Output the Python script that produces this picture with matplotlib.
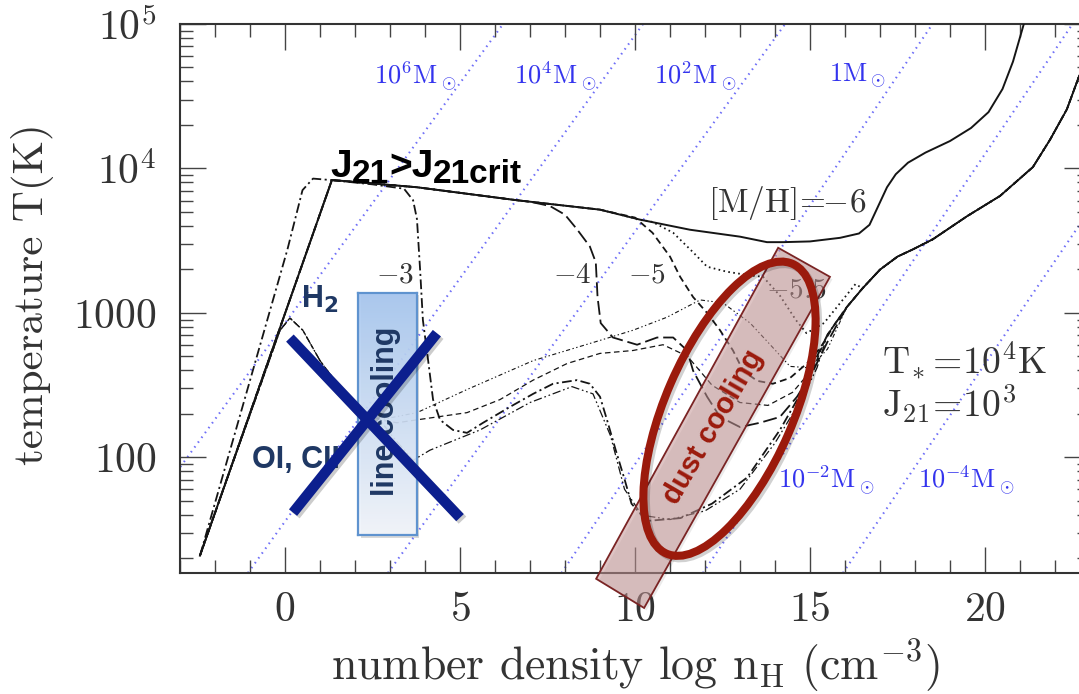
import numpy as np
import matplotlib
matplotlib.use("Agg")
import matplotlib.pyplot as plt
from matplotlib import patches
from matplotlib import transforms as mtransforms
from matplotlib.colors import LinearSegmentedColormap
from matplotlib.ticker import MultipleLocator, LogLocator, FixedLocator, NullFormatter

plt.rcParams["mathtext.fontset"] = "cm"
plt.rcParams["font.family"] = "serif"
plt.rcParams["font.serif"] = ["cmr10", "DejaVu Serif"]
plt.rcParams["axes.unicode_minus"] = False
plt.rcParams["lines.scale_dashes"] = False

SANS = ["Liberation Sans", "DejaVu Sans"]
INK = "#333333"
NAVY = "#1f3864"
DARKRED = "#9b1a0c"
CURVE = "#151515"

# ---- thermal tracks, (log n_H, log T) ----
rise_n = [-2.43, 1.34]
rise_t = [1.32, 3.92]

# [M/H] = -6 : atomic-cooling plateau all the way
plat_n = [1.34, 3.77, 6.63, 9.0, 10.14, 11.57, 13.0, 13.77, 14.23, 15.0, 15.86, 16.4, 16.7,
          16.95, 17.2, 17.45, 17.8, 18.3, 19.0, 19.6, 20.1, 20.5, 20.8, 21.05, 21.25]
plat_t = [3.92, 3.87, 3.78, 3.715, 3.646, 3.576, 3.528, 3.49, 3.49, 3.495, 3.52, 3.55, 3.61,
          3.74, 3.87, 3.96, 4.04, 4.11, 4.19, 4.28, 4.39, 4.55, 4.74, 4.95, 5.12]

# common high-density track after dust cooling
tail_n = [15.1, 15.5, 16.05, 16.5, 17.0, 17.5, 17.94, 18.51, 19.49, 20.43, 21.37, 21.86,
          22.34, 22.69, 23.1]
tail_t = [2.72, 2.85, 3.04, 3.17, 3.30, 3.39, 3.44, 3.51, 3.67, 3.81, 4.01, 4.20,
          4.41, 4.64, 4.85]

m55_n = [10.5, 11.09, 11.66, 12.06, 12.63, 13.29, 13.66, 14.14, 14.6, 14.9, 15.4, 16.3]
m55_t = [3.63, 3.555, 3.42, 3.32, 3.285, 3.26, 3.25, 3.12, 2.95, 2.86, 2.93, 3.2]

m5_n = [10.0, 10.5, 11.0, 11.29, 11.66, 12.06, 12.43, 12.8, 13.09, 13.49, 13.94, 14.43,
        14.91, 15.3, 15.7]
m5_t = [3.66, 3.555, 3.39, 3.25, 3.11, 3.0, 2.88, 2.74, 2.6, 2.53, 2.51, 2.55,
        2.65, 2.76, 2.92]

m4_n = [7.0, 7.57, 8.0, 8.34, 8.71, 8.88, 8.93, 9.02, 9.37, 10.06, 10.63, 11.09, 11.49,
        11.66, 12.06, 12.43, 13.0, 13.57, 14.14, 14.63, 15.09, 15.5]
m4_t = [3.77, 3.74, 3.68, 3.58, 3.46, 3.35, 3.11, 2.93, 2.83, 2.78, 2.83, 2.83, 2.74,
        2.6, 2.42, 2.28, 2.21, 2.24, 2.28, 2.42, 2.6, 2.8]

m3_n = [-2.43, 0.07, 0.5, 0.8, 1.3, 2.5, 3.4, 3.66, 3.77, 3.86, 3.94, 4.09, 4.23, 4.43,
        4.8, 5.2, 5.66, 6.43, 7.09, 7.66, 8.34, 8.71, 9.0, 9.2, 9.45, 9.7, 9.9, 10.33,
        11.3, 12.2, 13.2, 14.14, 14.8, 15.1]
m3_t = [1.32, 3.44, 3.85, 3.93, 3.92, 3.89, 3.86, 3.78, 3.65, 3.30, 2.95, 2.67, 2.40, 2.26,
        2.19, 2.17, 2.24, 2.35, 2.44, 2.51, 2.535, 2.51, 2.42, 2.26, 2.05, 1.85, 1.68, 1.56,
        1.58, 1.68, 1.86, 2.19, 2.47, 2.65]

# H2-cooled branch, split after the ~200 K minimum
h2_n = [-2.43, -0.14, 0.14, 0.51, 1.0, 1.49, 1.94, 2.34, 2.71]
h2_t = [1.32, 2.88, 2.965, 2.88, 2.67, 2.51, 2.40, 2.31, 2.26]

ha_n = [3.77, 5.2, 7.09, 9.0, 9.94, 10.91, 11.86, 12.51, 13.29, 13.94, 14.43, 15.0, 15.5]
ha_t = [2.31, 2.47, 2.67, 2.81, 2.88, 2.97, 3.09, 3.07, 2.93, 2.76, 2.63, 2.62, 2.75]

hb_n = [3.2, 3.77, 5.2, 6.14, 7.09, 8.06, 9.0, 9.94, 10.8, 11.5, 12.2, 13.0, 13.8, 14.5, 15.1]
hb_t = [2.24, 2.26, 2.31, 2.40, 2.535, 2.65, 2.72, 2.74, 2.78, 2.70, 2.50, 2.38, 2.36, 2.45, 2.62]

hc_n = [3.09, 3.66, 4.14, 5.57, 7.0, 8.2, 8.8, 9.3, 9.7, 10.2, 11.0, 12.0, 13.0, 14.0,
        14.8, 15.2]
hc_t = [2.14, 1.98, 2.05, 2.19, 2.38, 2.49, 2.44, 2.15, 1.78, 1.60, 1.57, 1.63, 1.78, 2.10,
        2.42, 2.62]

# constant Jeans-mass lines: log n where they cross log T = 1.2 and log T = 5
jeans_lo = [-5.2, -1.06, 2.94, 7.9, 11.94, 15.94]
jeans_hi = [6.23, 10.23, 14.29, 18.5, 22.5, 26.6]
jeans_labels = [r"$10^6\mathrm{M}_\odot$", r"$10^4\mathrm{M}_\odot$", r"$10^2\mathrm{M}_\odot$",
                r"$1\mathrm{M}_\odot$", r"$10^{-2}\mathrm{M}_\odot$", r"$10^{-4}\mathrm{M}_\odot$"]
jeans_lab_n = [3.71, 7.71, 11.71, 16.35, 15.46, 19.46]
jeans_lab_t = [4.635, 4.635, 4.635, 4.64, 1.84, 1.84]

metal_labels = [r"$-3$", r"$-4$", r"$-5$", r"$-5.5$"]
metal_lab_n = [3.14, 8.2, 10.34, 14.6]
metal_lab_t = [3.26, 3.26, 3.26, 3.16]


def upto(n, t, x):
    k = sum(1 for v in n if v <= x)
    return list(n[:k]), list(t[:k])


def with_tail(n, t):
    k = next(i for i, v in enumerate(tail_n) if v > n[-1])
    return np.array(n + tail_n[k:]), 10.0 ** np.array(t + tail_t[k:])


fig = plt.figure(figsize=(10.79, 6.94), dpi=100)
ax = fig.add_axes([180 / 1079, 121 / 694, 910 / 1079, 549 / 694])
ax.set_yscale("log")
ax.set_xlim(-3, 23)
ax.set_ylim(10 ** 1.2, 1e5)

# Jeans-mass guide lines
for lo, hi in zip(jeans_lo, jeans_hi):
    ax.plot([lo, hi], [10 ** 1.2, 1e5], color="#6e6ef7", lw=1.5,
            linestyle=(0, (1.1, 3.2)), zorder=1)
for lab, n, t in zip(jeans_labels, jeans_lab_n, jeans_lab_t):
    ax.text(n, 10 ** t, lab, color="#3434ee", fontsize=19, ha="center", va="center", zorder=2)

# metallicity tracks
pn, pt = upto(plat_n, plat_t, 30)
ax.plot(rise_n + pn[1:], 10.0 ** np.array(rise_t + pt[1:]), color=CURVE, lw=1.4, zorder=3)

pn, pt = upto(plat_n, plat_t, 10.14)
n, t = with_tail(rise_n + pn[1:] + m55_n, rise_t + pt[1:] + m55_t)
ax.plot(n, t, color=CURVE, lw=1.3, linestyle=(0, (1.2, 2.4)), zorder=3)

pn, pt = upto(plat_n, plat_t, 9.0)
n, t = with_tail(rise_n + pn[1:] + m5_n, rise_t + pt[1:] + m5_t)
ax.plot(n, t, color=CURVE, lw=1.3, linestyle=(0, (5, 3)), zorder=3)

pn, pt = upto(plat_n, plat_t, 6.63)
n, t = with_tail(rise_n + pn[1:] + m4_n, rise_t + pt[1:] + m4_t)
ax.plot(n, t, color=CURVE, lw=1.3, linestyle=(0, (10, 3.5)), zorder=3)

n, t = with_tail(m3_n, m3_t)
ax.plot(n, t, color=CURVE, lw=1.3, linestyle=(0, (7, 2.5, 1.5, 2.5)), zorder=3)

n, t = with_tail(h2_n + ha_n, h2_t + ha_t)
ax.plot(n, t, color=CURVE, lw=0.8, linestyle=(0, (3, 1.8, 1, 1.8, 1, 1.8)), zorder=3)
n, t = with_tail(h2_n + hb_n, h2_t + hb_t)
ax.plot(n, t, color=CURVE, lw=0.9, linestyle=(0, (4, 2.5)), zorder=3)
n, t = with_tail(h2_n + hc_n, h2_t + hc_t)
ax.plot(n, t, color=CURVE, lw=0.9, linestyle=(0, (6, 2, 1.2, 2, 1.2, 2)), zorder=3)

for lab, n, t in zip(metal_labels, metal_lab_n, metal_lab_t):
    ax.text(n, 10 ** t, lab, color=INK, fontsize=21, ha="center", va="center", zorder=2)
ax.text(14.34, 10 ** 3.764, r"$\mathrm{[M/H]}\!=\!\!\!-\!6$", color=INK, fontsize=24,
        ha="center", va="center", zorder=2)
ax.text(17.06, 10 ** 2.674, r"$\mathrm{T}_{\!*}\!=\!10^4\mathrm{K}$", color=INK, fontsize=27,
        ha="left", va="center", zorder=2)
ax.text(17.06, 10 ** 2.375, r"$\mathrm{J}_{21}\!=\!10^3$", color=INK, fontsize=27,
        ha="left", va="center", zorder=2)

# axes cosmetics
for side in ax.spines.values():
    side.set_linewidth(1.5)
    side.set_color("#333333")
ax.xaxis.set_major_locator(FixedLocator([0, 5, 10, 15, 20]))
ax.xaxis.set_minor_locator(MultipleLocator(1))
ax.set_xticklabels([r"$0$", r"$5$", r"$10$", r"$15$", r"$20$"])
ax.yaxis.set_major_locator(FixedLocator([1e2, 1e3, 1e4, 1e5]))
ax.yaxis.set_minor_locator(LogLocator(base=10, subs=np.arange(2, 10)))
ax.yaxis.set_minor_formatter(NullFormatter())
ax.set_yticklabels([r"$100$", r"$1000$", r"$10^4$", r"$10^5$"])
ax.tick_params(which="both", direction="in", top=True, right=True, colors="#444444",
               labelcolor=INK, labelsize=30)
ax.tick_params(which="major", length=18.5, width=1.0)
ax.tick_params(which="minor", length=9.5, width=1.0)
ax.tick_params(axis="x", pad=13)
ax.tick_params(axis="y", pad=17)

fig.text(33 / 1079, 1 - 294 / 694, "temperature T(K)", rotation=90, ha="center", va="center",
         fontsize=31, color=INK)
fig.text(635 / 1079, 14 / 694, r"number density log n$_\mathrm{H}$ (cm$^{-3}$)",
         ha="center", va="baseline", fontsize=33, color=INK)


def shifted(base, dx=2.5, dy=-2.5):
    return base + mtransforms.Affine2D().translate(dx, dy)


# "line cooling" box with a vertical gradient
bx0, bx1, by0, by1 = 2.09, 3.77, 10 ** 1.46, 10 ** 3.14
ax.add_patch(patches.Rectangle((bx0, by0), bx1 - bx0, by1 - by0, facecolor="black",
                               alpha=0.15, edgecolor="none", zorder=4,
                               transform=shifted(ax.transData)))
grad_ax = ax.inset_axes([bx0, by0, bx1 - bx0, by1 - by0], transform=ax.transData, zorder=4)
grad_cmap = LinearSegmentedColormap.from_list("box", ["#f3f6fb", "#a6c6ef"])
grad_ax.imshow(np.linspace(0, 1, 256)[:, None], cmap=grad_cmap, aspect="auto",
               origin="lower", extent=[0, 1, 0, 1], alpha=0.92)
grad_ax.set_xticks([])
grad_ax.set_yticks([])
grad_ax.patch.set_alpha(0)
for side in grad_ax.spines.values():
    side.set_color("#5f93cf")
    side.set_linewidth(1.6)
ax.text(2.88, 10 ** 2.32, "line cooling", rotation=90, ha="center", va="center",
        fontsize=22, fontweight="bold", family=SANS, color=NAVY, zorder=5)

ax.text(1.0, 10 ** 3.09, r"H$_\mathbf{2}$", fontsize=22, fontweight="bold", family=SANS,
        math_fontfamily="dejavusans", color=NAVY, ha="center", va="center", zorder=5)
ax.text(0.31, 10 ** 1.98, "OI, CII", fontsize=22, fontweight="bold", family=SANS,
        color=NAVY, ha="center", va="center", zorder=5)

# the cross over the line-cooling region
cross = [([0.14, 5.0], [2.826, 1.583]), ([0.23, 4.34], [1.618, 2.86])]
for xs, ts in cross:
    ax.plot(xs, 10.0 ** np.array(ts), color="black", alpha=0.2, lw=7.5,
            solid_capstyle="butt", transform=shifted(ax.transData), zorder=6)
for xs, ts in cross:
    ax.plot(xs, 10.0 ** np.array(ts), color="#0c1f8e", lw=7.5, solid_capstyle="butt", zorder=7)

# dust-cooling band (runs past the bottom axis)
band = [(14.09, 10 ** 3.451), (15.57, 10 ** 3.25), (10.26, 10 ** 0.958), (8.89, 10 ** 1.16)]
ax.add_patch(patches.Polygon(band, closed=True, facecolor="black", alpha=0.08,
                             edgecolor="none", clip_on=False, zorder=4,
                             transform=shifted(ax.transData)))
ax.add_patch(patches.Polygon(band, closed=True, facecolor="#c49595", alpha=0.55,
                             edgecolor="none", clip_on=False, zorder=4))
ax.add_patch(patches.Polygon(band, closed=True, facecolor="none", edgecolor="#7a2424",
                             lw=1.3, clip_on=False, zorder=4))
ax.text(12.23, 10 ** 2.21, "dust cooling", rotation=60, rotation_mode="anchor",
        ha="center", va="center", fontsize=21, fontweight="bold", family=SANS,
        color=DARKRED, zorder=9)

ell_at = mtransforms.ScaledTranslation(12.70, 10 ** 2.337, ax.transData)
ax.add_patch(patches.Ellipse((0, 0), 3.16, 1.28, angle=66.5, fill=False, lw=5.8,
                             edgecolor="black", alpha=0.18, zorder=8,
                             transform=shifted(fig.dpi_scale_trans + ell_at)))
ax.add_patch(patches.Ellipse((0, 0), 3.16, 1.28, angle=66.5, fill=False, lw=5.8,
                             edgecolor=DARKRED, zorder=8,
                             transform=fig.dpi_scale_trans + ell_at))

# J21 > J21crit headline, pieced together for the big subscripts
head = dict(fontweight="bold", family=SANS, color="black", zorder=9)
t1 = ax.text(1.29, 10 ** 3.944, "J", fontsize=28, va="baseline", **head)
t2 = ax.annotate("21", xy=(1, 0), xycoords=t1, xytext=(0, -4), textcoords="offset points",
                 fontsize=24, va="bottom", **head)
t3 = ax.annotate(">J", xy=(1, 0), xycoords=t2, xytext=(0, 4), textcoords="offset points",
                 fontsize=28, va="bottom", **head)
ax.annotate("21crit", xy=(1, 0), xycoords=t3, xytext=(0, -4), textcoords="offset points",
            fontsize=24, va="bottom", **head)

fig.savefig("out.png", dpi=100)
